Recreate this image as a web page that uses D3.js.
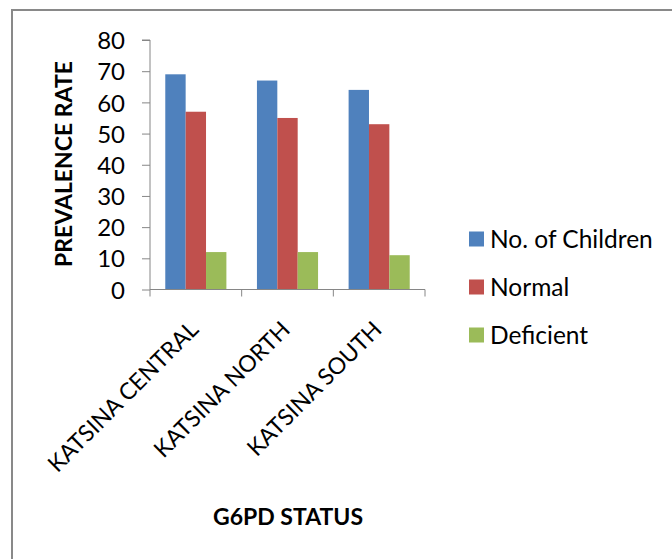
<!DOCTYPE html>
<html><head><meta charset="utf-8">
<script src="https://cdn.jsdelivr.net/npm/d3@7"></script>
<style>
html,body{margin:0;padding:0;background:#fff;}
svg{display:block;font-family:Lato, "Open Sans", sans-serif;}
</style></head>
<body>
<script>
const categories = ["KATSINA CENTRAL", "KATSINA NORTH", "KATSINA SOUTH"];
const seriesNames = ["No. of Children", "Normal", "Deficient"];
const childrenValues = [69, 67, 64];
const normalValues = [57, 55, 53];
const deficientValues = [12, 12, 11];
const yTicks = [0, 10, 20, 30, 40, 50, 60, 70, 80];
const colors = ["#4F81BD", "#C0504D", "#9BBB59"];
const seriesValues = [childrenValues, normalValues, deficientValues];

const W = 672, H = 559;
const svg = d3.select("body").append("svg").attr("width", W).attr("height", H);

// outer frame
svg.append("path").attr("d", `M12,${H} L12,10 L${W},10`).attr("fill", "none")
  .attr("stroke", "#898989").attr("stroke-width", 2);

const x0 = 150, x1 = 425, yTop = 40, yBot = 289.5;
const x = d3.scaleBand().domain(categories).range([x0, x1]).paddingInner(0).paddingOuter(0);
const y = d3.scaleLinear().domain([0, 80]).range([yBot, yTop]);
const barW = x.bandwidth() / 4.5;

const axisColor = "#868686";

// bars
categories.forEach((c, i) => {
  seriesValues.forEach((vals, s) => {
    const bx = x(c) + 0.75 * barW + s * barW;
    svg.append("rect")
      .attr("x", bx).attr("y", y(vals[i]))
      .attr("width", barW).attr("height", y(0) - y(vals[i]))
      .attr("fill", colors[s]);
  });
});

// y axis
const yAxis = d3.axisLeft(y).tickValues(yTicks).tickSize(8).tickPadding(17);
const gy = svg.append("g").attr("transform", `translate(${x0},0)`).call(yAxis);
gy.select(".domain").attr("stroke", axisColor).attr("d", `M-8,${yTop}H0V${yBot}`);
gy.selectAll(".tick line").attr("stroke", axisColor);
gy.selectAll(".tick text").attr("font-size", 24).attr("fill", "#000")
  .attr("font-family", "Lato").attr("dy", "0.36em");

// x axis
const gx = svg.append("g").attr("transform", `translate(0,${yBot})`);
gx.append("line").attr("x1", x0).attr("x2", x1).attr("y1", 0).attr("y2", 0).attr("stroke", axisColor);
const bounds = categories.map(c => x(c)).concat([x1]);
gx.selectAll("line.tk").data(bounds).enter().append("line").attr("class", "tk")
  .attr("x1", d => d).attr("x2", d => d).attr("y1", 0).attr("y2", 7).attr("stroke", axisColor);

// category labels
svg.selectAll("text.cat").data(categories).enter().append("text").attr("class", "cat")
  .attr("transform", d => `translate(${x(d) + x.bandwidth() / 2 + 4},331) rotate(-45)`)
  .attr("text-anchor", "end").attr("font-size", 23).attr("fill", "#000")
  .text(d => d);

// axis titles
svg.append("text").attr("transform", `translate(72,164) rotate(-90)`)
  .attr("text-anchor", "middle").attr("font-size", 23).attr("font-weight", "bold")
  .text("PREVALENCE RATE");
svg.append("text").attr("x", 288).attr("y", 525)
  .attr("text-anchor", "middle").attr("font-size", 23).attr("font-weight", "bold")
  .text("G6PD STATUS");

// legend
const lg = svg.append("g");
seriesNames.forEach((n, i) => {
  const cy = 239 + i * 48;
  lg.append("rect").attr("x", 469).attr("y", cy - 7.5).attr("width", 15).attr("height", 15).attr("fill", colors[i]);
  lg.append("text").attr("x", 490).attr("y", cy).attr("dy", "0.36em")
    .attr("font-size", 24.5).attr("fill", "#000").text(n);
});
</script>
</body></html>
